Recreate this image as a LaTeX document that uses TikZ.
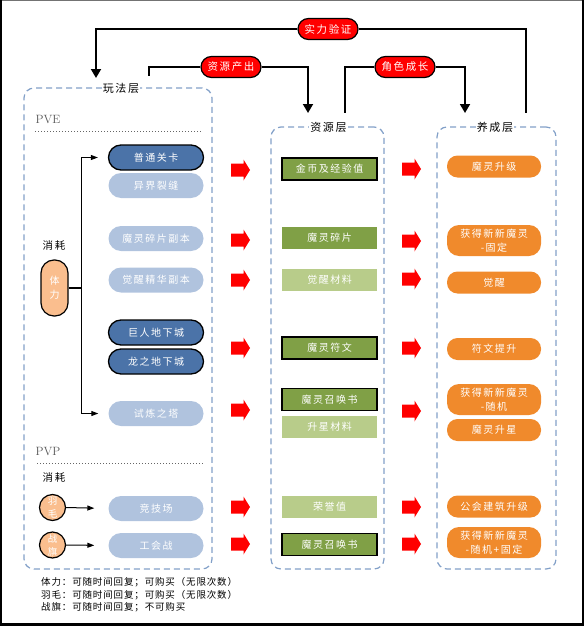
\documentclass[tikz,border=0pt]{standalone}
\usepackage{fontspec}
\newfontfamily\cjk[LetterSpace=15]{Noto Sans CJK SC}
\newfontfamily\cjknote[LetterSpace=9]{Noto Sans CJK SC}
\usetikzlibrary{arrows.meta}
\definecolor{dkblue}{RGB}{75,115,168}
\definecolor{ltblue}{RGB}{176,195,222}
\definecolor{dkgreen}{RGB}{128,160,70}
\definecolor{ltgreen}{RGB}{184,204,138}
\definecolor{oran}{RGB}{240,138,44}
\definecolor{ltoran}{RGB}{250,190,142}
\definecolor{dashblue}{RGB}{130,160,200}
\begin{document}
\begin{tikzpicture}[x=1pt,y=-1pt,
  lnode/.style={minimum width=95pt, minimum height=25pt, rounded corners=12.5pt, text=white, inner sep=0pt, font=\cjk\fontsize{10}{14}\selectfont},
  dkb/.style={lnode, fill=dkblue, draw=black, line width=1.3pt},
  ltb/.style={lnode, fill=ltblue},
  rnode/.style={minimum width=95pt, minimum height=22pt, text=white, inner sep=0pt, font=\cjk\fontsize{10}{14}\selectfont},
  dkg/.style={rnode, fill=dkgreen, draw=black, line width=1.5pt},
  grn/.style={rnode, fill=dkgreen},
  ltg/.style={rnode, fill=ltgreen},
  onode/.style={minimum width=94pt, minimum height=22pt, rounded corners=10.5pt, fill=oran, text=white, align=center, inner sep=0pt, font=\cjk\fontsize{10}{14}\selectfont},
  otall/.style={onode, minimum height=31pt, rounded corners=12pt},
  redpill/.style={fill=red, draw=black, line width=1.2pt, rounded corners=10.5pt, minimum width=60pt, minimum height=21pt, text=white, inner sep=0pt, font=\cjk\fontsize{10.5}{12}\selectfont},
  layerbox/.style={draw=dashblue, line width=1.2pt, dash pattern=on 6pt off 4pt, rounded corners=10pt, inner sep=0pt},
  layerlabel/.style={fill=white, inner sep=1pt, font=\cjk\fontsize{11}{12}\selectfont},
  bigline/.style={line width=1.8pt},
  bigarrow/.style={line width=1.8pt, -{Triangle[width=10pt,length=9pt]}},
  thinarrow/.style={line width=1pt, -{Triangle[width=5pt,length=7pt]}},
  consume/.style={draw=black, line width=1.2pt, fill=ltoran, text=white, align=center, inner sep=0pt},
  pvtext/.style={anchor=west, text=black!65, font=\fontsize{12}{12}\selectfont},
  sep/.style={draw=black!60, line width=0.8pt, dash pattern=on 1pt off 2pt},
  pics/redarr/.style={code={\fill[red] (-9.5,-6.5) -- (3,-6.5) -- (3,-10.5) -- (9.5,0) -- (3,10.5) -- (3,6.5) -- (-9.5,6.5) -- cycle;}}
]
\useasboundingbox (0,0) rectangle (584,626);
% frame
\draw[black!55, line width=1.5pt] (0,0.75) -- (584,0.75);
\draw[black, line width=1.5pt] (0.75,0) -- (0.75,626);
\draw[black, line width=2pt] (583,0) -- (583,626);
\draw[black, line width=2.5pt] (0,624.7) -- (584,624.7);

% layer boxes
\node[layerbox, minimum width=188pt, minimum height=481pt] (wanfa) at (118,328.5) {};
\node[layerbox, minimum width=113pt, minimum height=442pt] (ziyuan) at (327.5,348) {};
\node[layerbox, minimum width=119pt, minimum height=442pt] (yangc) at (496.5,348) {};
\node[layerlabel] (wanfaL) at (121,88) {玩法层};
\node[layerlabel] (ziyuanL) at (328.5,127) {资源层};
\node[layerlabel] (yangcL) at (495,127) {养成层};

% top pills
\node[redpill] (sl) at (328,29) {实力验证};
\node[redpill] (cc) at (231,67) {资源产出};
\node[redpill] (js) at (405,67) {角色成长};
\coordinate (c1) at (96,78);
\coordinate (c2) at (526,113);
\coordinate (c3) at (149,76);
\coordinate (c4) at (308,113);
\coordinate (c5) at (345,113);
\coordinate (c6) at (465,113);
\draw[bigarrow] (sl.west) -| (c1);
\draw[bigline] (sl.east) -| (c2);
\draw[bigline] (cc.west) -| (c3);
\draw[bigarrow] (cc.east) -| (c4);
\draw[bigline] (js.west) -| (c5);
\draw[bigarrow] (js.east) -| (c6);

% PVE / PVP
\node[pvtext] (pve) at (32,120) {PVE};
\draw[sep] (35,131) -- (202,131);
\node[pvtext] (pvp) at (32,452) {PVP};
\draw[sep] (37,463) -- (203,463);
\node[font=\cjk\fontsize{10.5}{12}\selectfont] (xh1) at (54,246) {消耗};
\node[font=\cjk\fontsize{10.5}{12}\selectfont] (xh2) at (54,477) {消耗};

% left column
\node[dkb] (n1) at (156,157.5) {普通关卡};
\node[ltb] (n2) at (156,185.5) {异界裂缝};
\node[ltb] (n3) at (156,238.5) {魔灵碎片副本};
\node[ltb] (n4) at (156,280) {觉醒精华副本};
\node[dkb] (n5) at (156,332.5) {巨人地下城};
\node[dkb] (n6) at (156,361.5) {龙之地下城};
\node[ltb] (n7) at (156,413.5) {试炼之塔};
\node[ltb] (n8) at (156,508.5) {竞技场};
\node[ltb] (n9) at (156,545.5) {工会战};

% consumables
\node[consume, minimum width=27pt, minimum height=56pt, rounded corners=13pt, font=\cjk\fontsize{10}{14}\selectfont] (tili) at (54.5,288) {体\\力};
\node[consume, circle, minimum size=26pt, font=\cjk\fontsize{9.5}{13}\selectfont] (yumao) at (52.5,507.5) {羽\\毛};
\node[consume, circle, minimum size=26pt, font=\cjk\fontsize{9.5}{13}\selectfont] (zhanqi) at (52.5,545) {战\\旗};
\coordinate (jt) at (81,288);
\draw[line width=1.2pt] (tili.east) -- (jt);
\draw[thinarrow, shorten >=10pt] (jt) |- (n1.west);
\draw[thinarrow, shorten >=10pt] (jt) |- (n7.west);
\draw[thinarrow, shorten >=14pt] (yumao.east) -- (n8.west);
\draw[thinarrow, shorten >=14pt] (zhanqi.east) -- (n9.west);

% resource column
\node[dkg] (r1) at (329.5,169) {金币及经验值};
\node[grn] (r2) at (329.5,238) {魔灵碎片};
\node[ltg] (r3) at (329.5,280) {觉醒材料};
\node[dkg] (r4) at (329.5,348) {魔灵符文};
\node[dkg] (r5) at (329.5,399.5) {魔灵召唤书};
\node[ltg] (r6) at (329.5,426.5) {升星材料};
\node[ltg] (r7) at (329.5,506.5) {荣誉值};
\node[dkg] (r8) at (329.5,544.5) {魔灵召唤书};

% growth column
\node[onode] (g1) at (494,166.5) {魔灵升级};
\node[otall] (g2) at (494,240.5) {获得新新魔灵\\-固定};
\node[onode] (g3) at (494,282.5) {觉醒};
\node[onode] (g4) at (494,349) {符文提升};
\node[otall] (g5) at (494,399.5) {获得新新魔灵\\-随机};
\node[onode] (g6) at (494,430) {魔灵升星};
\node[onode] (g7) at (494,506.5) {公会建筑升级};
\node[otall] (g8) at (494,542.5) {获得新新魔灵\\-随机+固定};

% red block arrows
\foreach \yy in {170,240,280,348,410,507,544} { \pic at (240.5,\yy) {redarr}; }
\foreach \yy in {169,241,279,348,411,507,544} { \pic at (411.5,\yy) {redarr}; }

% notes
\node[anchor=north west, align=left, inner sep=0pt, font=\cjknote\fontsize{9.5}{12.7}\selectfont] (notes) at (41,577)
  {体力：可随时间回复；可购买（无限次数）\\羽毛：可随时间回复；可购买（无限次数）\\战旗：可随时间回复；不可购买};
\end{tikzpicture}
\end{document}
